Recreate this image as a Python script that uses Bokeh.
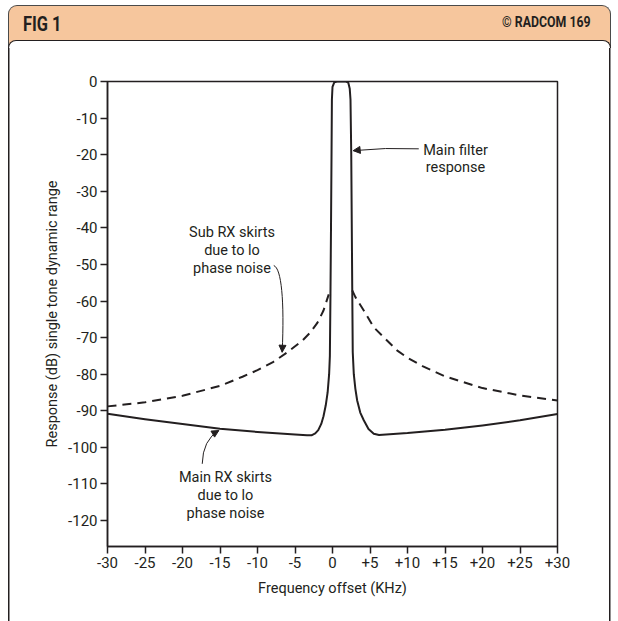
from bokeh.plotting import figure
from bokeh.layouts import column
from bokeh.models import FixedTicker, Label, Arrow, NormalHead, Div
from bokeh.embed import file_html
from bokeh.resources import INLINE

# ---------------- data ----------------
# Main filter response plus main RX skirts (solid line)
main_x = [-30, -25, -20, -15, -10, -5, -3.4, -2.8, -2.3, -1.9, -1.5, -1.2, -0.9, -0.65,
          -0.45, -0.35, -0.27, -0.2, -0.13, -0.08, 0.0, 0.25, 0.6, 1.2, 1.8, 2.1, 2.3,
          2.4, 2.5, 2.63, 2.7, 2.84, 3.05, 3.29, 3.7, 4.17, 4.8, 5.5, 6.2, 10, 15, 20, 25, 30]
main_y = [-90.8, -92.3, -93.6, -94.9, -95.8, -96.5, -96.7, -96.7, -96.2, -95.3, -93.6, -91.5,
          -88.5, -85.0, -80.0, -75.0, -58.0, -40.0, -20.0, -5.0, -1.5, -0.2, 0.0, 0.0, 0.0,
          -0.3, -2.0, -5.0, -20.0, -56.0, -74.0, -80.0, -84.0, -87.2, -90.5, -92.6, -95.0,
          -96.3, -96.6, -96.1, -95.2, -94.0, -92.6, -90.9]

# Sub RX skirts due to LO phase noise (dashed line), left and right of the filter
sub_left_x = [-30, -25, -20, -15, -12, -10, -8, -6, -4, -3, -2, -1.2, -0.5]
sub_left_y = [-88.8, -87.7, -85.9, -83.2, -80.7, -78.9, -76.8, -74.0, -70.8, -68.7, -65.9, -62.6, -58.2]
sub_right_x = [2.63, 3.07, 4.17, 5.5, 6.84, 8.6, 10, 12, 15, 20, 25, 30]
sub_right_y = [-57.1, -59.0, -62.6, -67.2, -69.9, -73.5, -75.5, -77.8, -80.6, -83.8, -85.8, -87.2]

x_ticks = [-30, -25, -20, -15, -10, -5, 0, 5, 10, 15, 20, 25, 30]
x_tick_labels = ["-30", "-25", "-20", "-15", "-10", "-5", "0", "+5", "+10", "+15", "+20", "+25", "+30"]
y_ticks = [0, -10, -20, -30, -40, -50, -60, -70, -80, -90, -100, -110, -120]
y_tick_labels = ["0", "-10", "-20", "-30", "-40", "-50", "-60", "-70", "-80", "-90", "-100", "-110", "-120"]

title_left = "FIG 1"
title_right = "\u00a9 RADCOM 169"
x_title = "Frequency offset (KHz)"
y_title = "Response (dB) single tone dynamic range"

# ---------------- styling ----------------
FONT = "Roboto"
INK = "#231f20"
ORANGE = "#f6c69d"
EDGE = "#4a4a4a"

# header bar (HTML, real text)
header_html = f"""
<div style="position:relative;width:618px;height:48px;font-family:{FONT},sans-serif;color:{INK};">
  <div style="position:absolute;left:8px;top:5px;width:603px;height:43px;box-sizing:border-box;
              background:{ORANGE};border:1.5px solid {EDGE};border-bottom:none;
              border-radius:9px 9px 0 0;"></div>
  <div style="position:absolute;left:8.25px;top:40px;width:602.5px;height:8px;box-sizing:border-box;
              background:#ffffff;border:1.5px solid {INK};border-bottom:none;
              border-radius:8px 8px 0 0;"></div>
  <span style="position:absolute;left:23px;top:14px;font-size:20px;line-height:20px;font-weight:bold;
               transform:scaleX(0.82);transform-origin:left center;white-space:nowrap;">{title_left}</span>
  <span style="position:absolute;right:27px;top:15px;font-size:14px;line-height:14px;font-weight:bold;
               transform:scaleX(0.88);transform-origin:right center;white-space:nowrap;">{title_right}</span>
</div>
"""
header = Div(text=header_html, width=618, height=48, margin=0)

p = figure(width=618, height=573, x_range=(-30, 30), y_range=(-127.1, 0),
           output_backend="svg", toolbar_location=None, margin=0,
           min_border_left=107, min_border_right=61, min_border_top=33, min_border_bottom=75)

# side edges of the white panel drawn behind the (transparent) canvas
p.styles = {"background": (f"linear-gradient({INK},{INK}) 8.25px 0 / 1.5px 100% no-repeat, "
                           f"linear-gradient({INK},{INK}) 609.25px 0 / 1.5px 100% no-repeat, #ffffff")}
p.background_fill_color = None
p.border_fill_color = None
p.outline_line_color = INK
p.outline_line_width = 1.5
p.grid.visible = False

p.xaxis.ticker = FixedTicker(ticks=x_ticks)
p.xaxis.major_label_overrides = dict(zip(x_ticks, x_tick_labels))
p.yaxis.ticker = FixedTicker(ticks=y_ticks)
p.yaxis.major_label_overrides = dict(zip(y_ticks, y_tick_labels))

for ax in (p.xaxis[0], p.yaxis[0]):
    ax.axis_line_color = INK
    ax.axis_line_width = 1.5
    ax.major_tick_line_color = INK
    ax.major_tick_line_width = 1.5
    ax.major_tick_out = 7
    ax.major_tick_in = 0
    ax.minor_tick_line_color = None
    ax.major_label_text_font = FONT
    ax.major_label_text_font_size = "15px"
    ax.major_label_text_color = INK
    ax.major_label_standoff = 3
    ax.axis_label_text_font = FONT
    ax.axis_label_text_font_size = "14.5px"
    ax.axis_label_text_font_style = "normal"
    ax.axis_label_text_color = INK

p.xaxis.axis_label = x_title
p.xaxis.axis_label_standoff = 9
p.yaxis.axis_label = y_title
p.yaxis.axis_label_standoff = 4

# ---------------- curves ----------------
p.line(main_x, main_y, line_color=INK, line_width=2, line_join="round")
p.line(sub_left_x, sub_left_y, line_color=INK, line_width=2, line_dash="9 6")
p.line(sub_right_x, sub_right_y, line_color=INK, line_width=2, line_dash="9 6")

# ---------------- annotations ----------------
def note(x, y, text):
    p.add_layout(Label(x=x, y=y, text=text, text_font=FONT, text_font_size="14.5px",
                       text_color=INK, text_align="center", text_baseline="middle",
                       text_line_height=1.05))

note(16.4, -21.2, "Main filter\nresponse")
note(-13.4, -46.2, "Sub RX skirts\ndue to lo\nphase noise")
note(-14.27, -113.2, "Main RX skirts\ndue to lo\nphase noise")

# leader curves
p.quadratic(x0=[11.5], y0=[-18.4], x1=[2.76], y1=[-18.9], cx=[7.0], cy=[-18.0],
            line_color=INK, line_width=1)
p.bezier(x0=[-7.83], y0=[-50.3], x1=[-6.71], y1=[-74.0], cx0=[-6.8], cy0=[-51.1],
         cx1=[-6.4], cy1=[-59.9], line_color=INK, line_width=1)
p.quadratic(x0=[-17.37], y0=[-104.5], x1=[-15.16], y1=[-95.4], cx=[-17.3], cy=[-98.0],
            line_color=INK, line_width=1)

# arrow heads
for xs, ys, xe, ye in [(3.43, -18.76, 2.76, -18.9),
                       (-6.68, -72.63, -6.71, -74.0),
                       (-15.73, -96.1, -15.16, -95.4)]:
    p.add_layout(Arrow(end=NormalHead(size=7, fill_color=INK, line_color=INK, line_width=1),
                       x_start=xs, y_start=ys, x_end=xe, y_end=ye,
                       line_color=INK, line_width=1))

layout = column(header, p, spacing=0, margin=0)
open("out.html", "w").write(file_html(layout, INLINE))
